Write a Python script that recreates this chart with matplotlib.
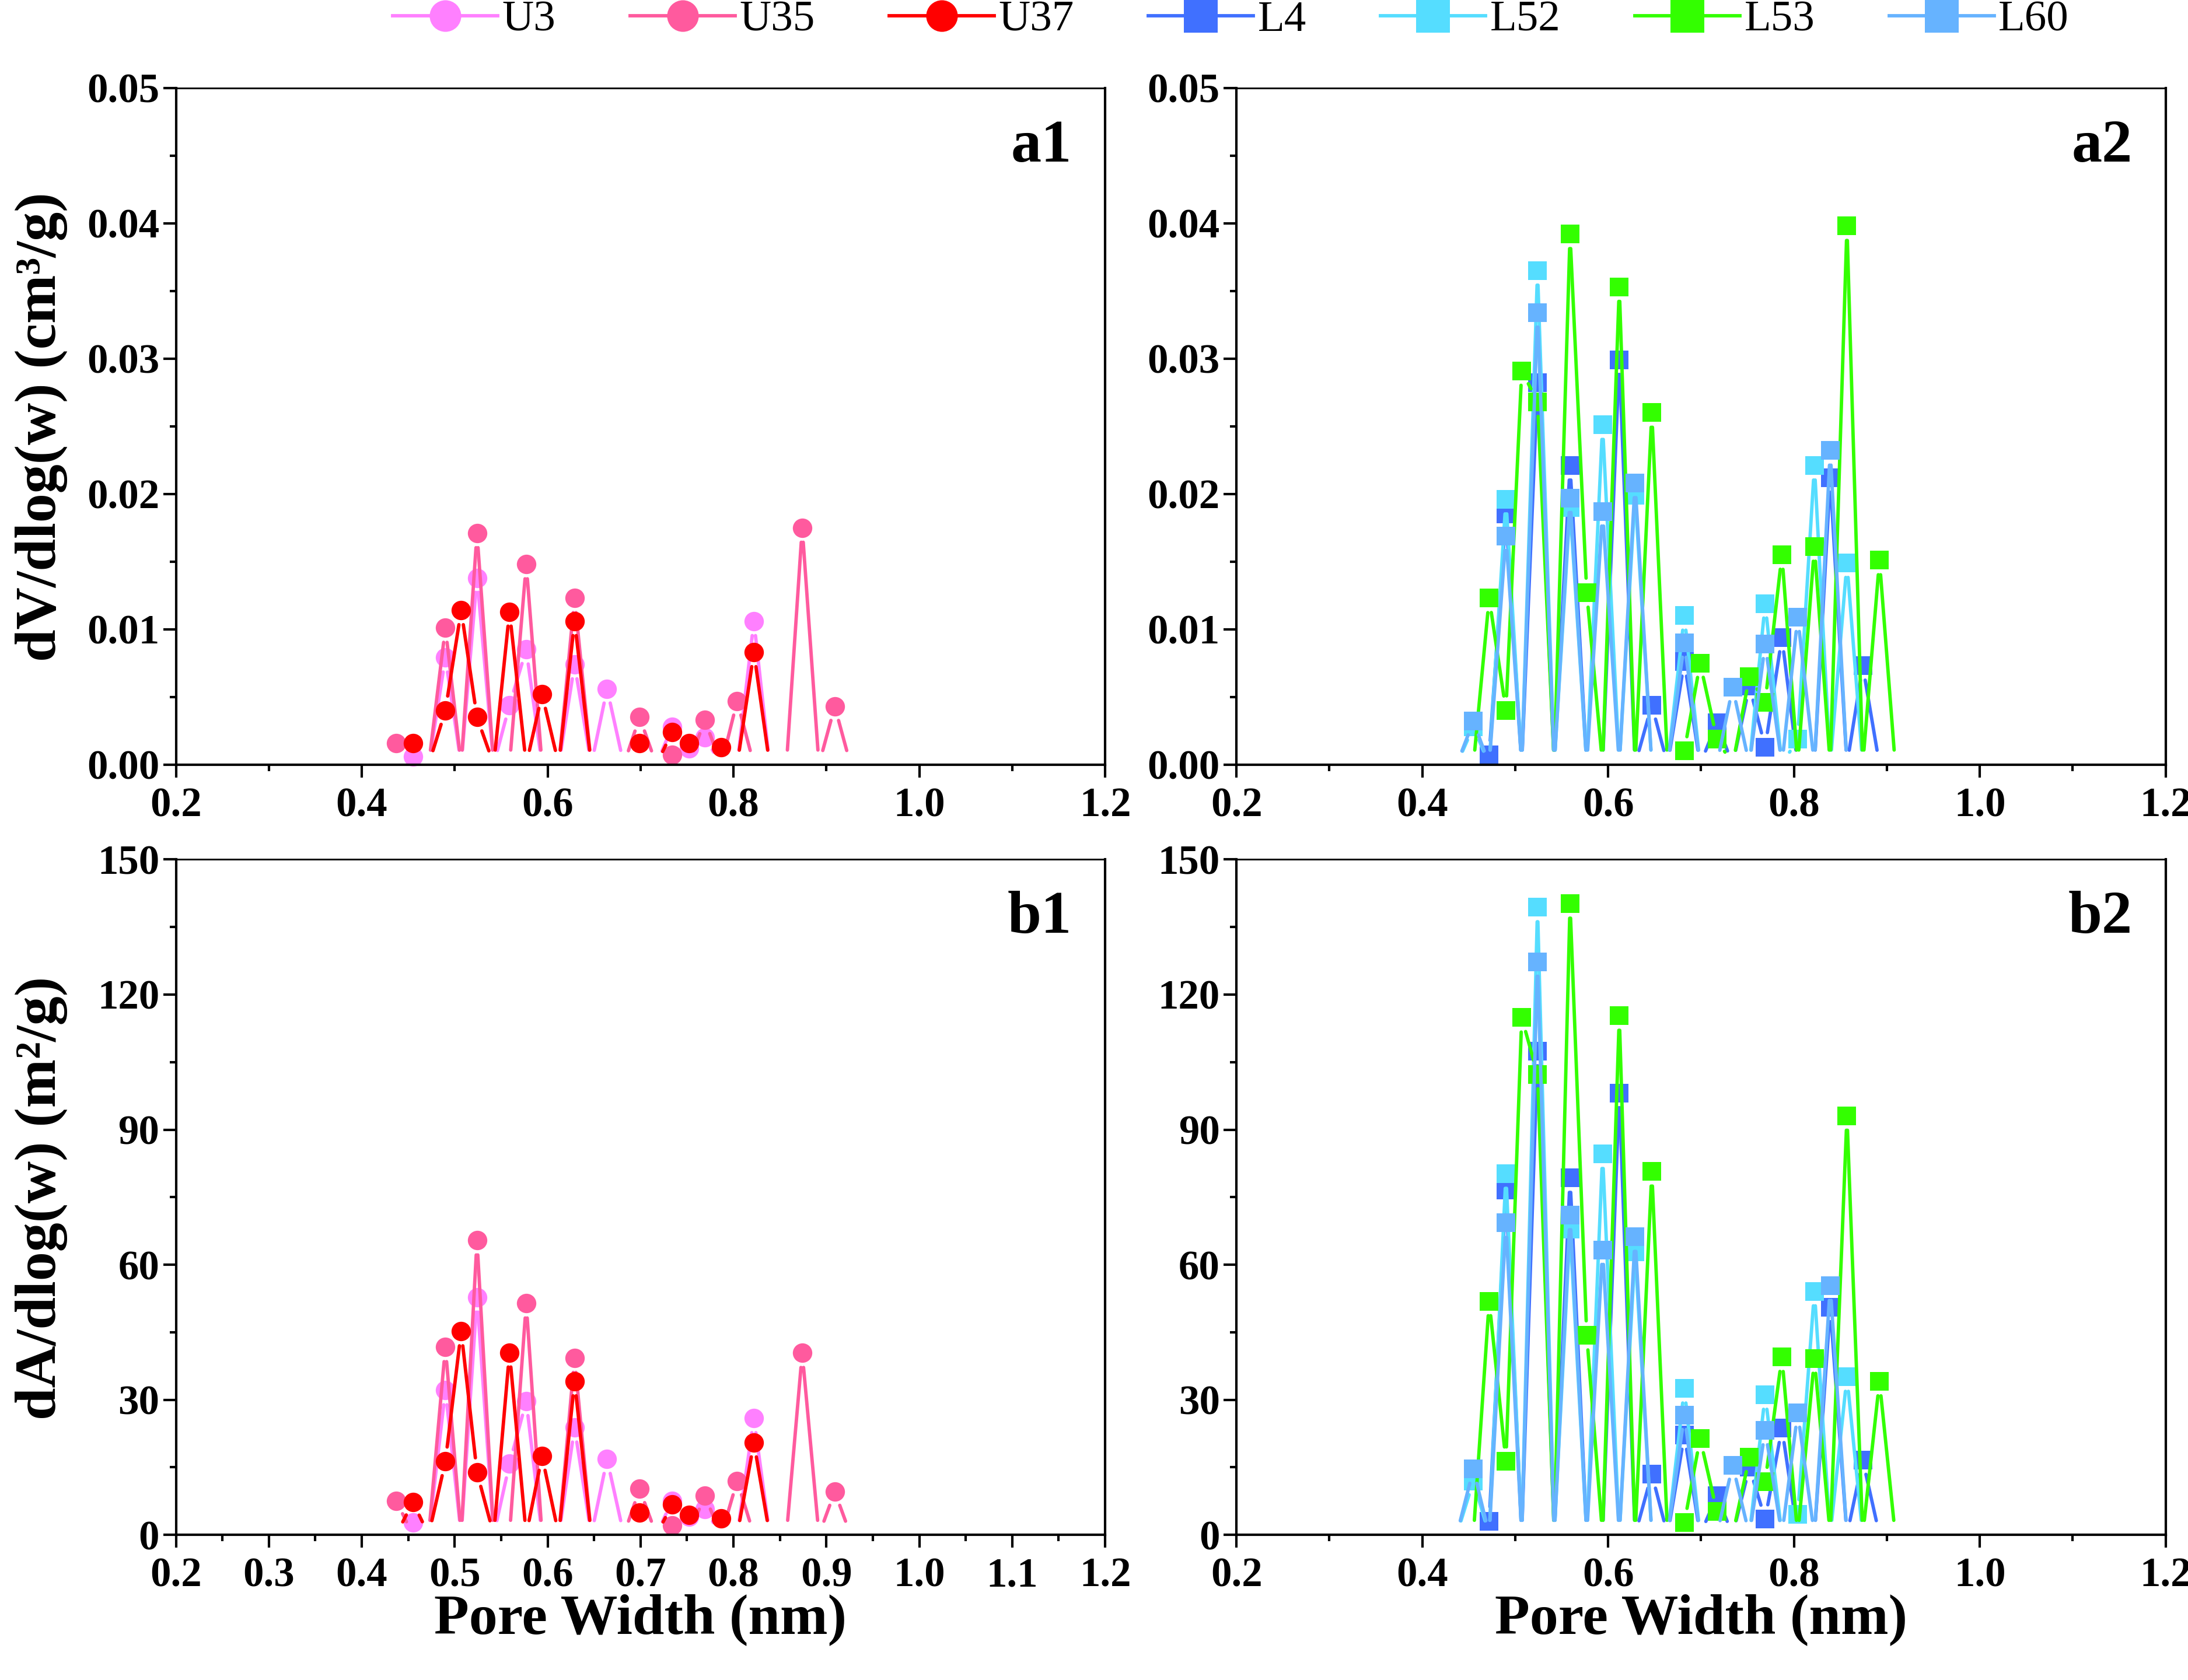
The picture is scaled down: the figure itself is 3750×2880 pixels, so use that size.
import matplotlib
matplotlib.use('Agg')
import matplotlib.pyplot as plt
import numpy as np
from matplotlib.collections import LineCollection
from matplotlib.lines import Line2D
from matplotlib.ticker import MultipleLocator, FormatStrFormatter

plt.rcParams['font.family'] = ['Liberation Serif', 'DejaVu Serif']

# pore width grid (nm)
pore_w = [0.437, 0.455, 0.472, 0.490, 0.507, 0.524, 0.542, 0.559, 0.577, 0.594,
          0.612, 0.629, 0.647, 0.664, 0.682, 0.699, 0.717, 0.734, 0.752, 0.769,
          0.787, 0.804, 0.822, 0.839, 0.857, 0.874, 0.892, 0.909, 0.926]

# dV/dlog(w) (cm3/g)
U3_dv = [0, .0006, 0, .0079, 0, .0138, 0, .0044, .0085, 0, 0, .0074, 0, .0056, 0, 0, 0, .0028, .0012, .0020, 0, 0, .0106, 0, 0, 0, 0, 0, 0]
U35_dv = [.0016, 0, 0, .0101, 0, .0171, 0, 0, .0148, 0, 0, .0123, 0, 0, 0, .0035, 0, .0007, 0, .0033, 0, .0047, 0, 0, 0, .0175, 0, .0043, 0]
U37_dv = [0, .0016, 0, .0040, .0114, .0035, 0, .0113, 0, .0052, 0, .0106, 0, 0, 0, .0016, 0, .0024, .0016, 0, .0013, 0, .0083, 0, 0, 0, 0, 0, 0]
L4_dv = [0, 0, .0007, .0185, 0, .0282, 0, .0221, 0, 0, .0299, 0, .0044, 0, .0076, 0, .0031, 0, .0058, .0013, .0094, 0, 0, .0212, 0, .0073, 0, 0, 0]
L52_dv = [0, .0028, 0, .0196, 0, .0365, 0, .0190, 0, .0251, 0, .0199, 0, 0, .0110, 0, 0, 0, 0, .0119, 0, .0019, .0221, 0, .0149, 0, 0, 0, 0]
L53_dv = [0, 0, .0123, .0040, .0291, .0268, 0, .0392, .0127, 0, .0353, 0, .0260, 0, .0010, .0075, .0019, 0, .0065, .0046, .0155, 0, .0161, 0, .0398, 0, .0151, 0, 0]
L60_dv = [0, .0032, 0, .0169, 0, .0334, 0, .0197, 0, .0187, 0, .0208, 0, 0, .0090, 0, 0, .0057, 0, .0089, 0, .0109, 0, .0232, 0, 0, 0, 0, 0]

# dA/dlog(w) (m2/g)
U3_da = [0, 2.7, 0, 32.1, 0, 52.7, 0, 15.8, 29.7, 0, 0, 23.8, 0, 16.8, 0, 0, 0, 7.6, 4.0, 5.7, 0, 0, 25.9, 0, 0, 0, 0, 0, 0]
U35_da = [7.6, 0, 0, 41.7, 0, 65.4, 0, 0, 51.4, 0, 0, 39.3, 0, 0, 0, 10.2, 0, 2.1, 0, 8.7, 0, 12.0, 0, 0, 0, 40.4, 0, 9.6, 0]
U37_da = [0, 7.3, 0, 16.3, 45.2, 13.9, 0, 40.5, 0, 17.5, 0, 34.1, 0, 0, 0, 4.9, 0, 6.7, 4.4, 0, 3.6, 0, 20.5, 0, 0, 0, 0, 0, 0]
L4_da = [0, 0, 3.0, 76.6, 0, 107.4, 0, 79.3, 0, 0, 98.1, 0, 13.5, 0, 22.2, 0, 8.7, 0, 15.0, 3.5, 23.7, 0, 0, 50.6, 0, 16.6, 0, 0, 0]
L52_da = [0, 12.0, 0, 80.2, 0, 139.4, 0, 67.9, 0, 84.6, 0, 62.8, 0, 0, 32.5, 0, 0, 0, 0, 31.1, 0, 4.6, 54.1, 0, 35.1, 0, 0, 0, 0]
L53_da = [0, 0, 51.9, 16.3, 114.9, 102.3, 0, 140.2, 44.3, 0, 115.3, 0, 80.7, 0, 2.7, 21.4, 5.2, 0, 17.2, 11.8, 39.5, 0, 39.1, 0, 93.1, 0, 34.1, 0, 0]
L60_da = [0, 14.6, 0, 69.3, 0, 127.3, 0, 71.0, 0, 63.3, 0, 66.2, 0, 0, 26.6, 0, 0, 15.5, 0, 23.2, 0, 27.1, 0, 55.3, 0, 0, 0, 0, 0]

u_names = ['U3', 'U35', 'U37']
u_colors = ['#FF80FF', '#FF5A9E', '#FF0000']
l_names = ['L4', 'L52', 'L53', 'L60']
l_colors = ['#4070FF', '#55DDFF', '#33FF00', '#66B3FF']

DPI = 300
GAP = 25  # px, gap between line and each data point (Origin style)
LW = 1.4

fig = plt.figure(figsize=(12.5, 9.6), dpi=DPI)


def setup(ax, ylim, ymaj, ymin, yfmt, xmaj):
    ax.set_xlim(0.2, 1.2)
    ax.set_ylim(*ylim)
    ax.xaxis.set_major_locator(MultipleLocator(xmaj))
    ax.xaxis.set_minor_locator(MultipleLocator(xmaj / 2))
    ax.yaxis.set_major_locator(MultipleLocator(ymaj))
    ax.yaxis.set_minor_locator(MultipleLocator(ymin))
    ax.xaxis.set_major_formatter(FormatStrFormatter('%.1f'))
    ax.yaxis.set_major_formatter(FormatStrFormatter(yfmt))
    ax.tick_params(which='both', direction='out', width=1.0, top=False, right=False)
    ax.tick_params(which='major', length=5.3)
    ax.tick_params(which='minor', length=2.6)
    ax.tick_params(axis='y', pad=1.5)
    ax.tick_params(axis='x', pad=4)
    for lab in ax.get_xticklabels() + ax.get_yticklabels():
        lab.set_fontsize(17)
        lab.set_fontweight('bold')
    for s in ['left', 'bottom', 'right']:
        ax.spines[s].set_linewidth(1.0)
    ax.spines['top'].set_linewidth(0.7)


def gapped_plot(ax, x, y, color, marker, ms, z):
    x = np.asarray(x, float)
    y = np.asarray(y, float)
    pts = ax.transData.transform(np.column_stack([x, y]))
    inv = ax.transData.inverted()
    segs = []
    for p0, p1 in zip(pts[:-1], pts[1:]):
        d = p1 - p0
        L = np.hypot(d[0], d[1])
        if L <= 2 * GAP:
            continue
        u = d / L
        segs.append(inv.transform(np.array([p0 + u * GAP, p1 - u * GAP])))
    lc = LineCollection(segs, colors=color, linewidths=LW, capstyle='round', zorder=z)
    ax.add_collection(lc)
    m = y != 0
    ax.plot(x[m], y[m], linestyle='none', marker=marker, ms=ms, mfc=color,
            mec=color, mew=0, zorder=z + 0.05, clip_on=False)


pos = {'a1': [0.0804, 0.5449, 0.4247, 0.4028], 'a2': [0.5651, 0.5449, 0.4247, 0.4028],
       'b1': [0.0804, 0.0864, 0.4247, 0.4020], 'b2': [0.5651, 0.0864, 0.4247, 0.4020]}

ax_a1 = fig.add_axes(pos['a1'])
ax_a2 = fig.add_axes(pos['a2'])
ax_b1 = fig.add_axes(pos['b1'])
ax_b2 = fig.add_axes(pos['b2'])

setup(ax_a1, (0, 0.05), 0.01, 0.005, '%.2f', 0.2)
setup(ax_a2, (0, 0.05), 0.01, 0.005, '%.2f', 0.2)
setup(ax_b1, (0, 150), 30, 15, '%d', 0.1)
setup(ax_b2, (0, 150), 30, 15, '%d', 0.2)

for i, (ys, c) in enumerate(zip([U3_dv, U35_dv, U37_dv], u_colors)):
    gapped_plot(ax_a1, pore_w, ys, c, 'o', 8, 2 + i * 0.1)
for i, (ys, c) in enumerate(zip([U3_da, U35_da, U37_da], u_colors)):
    gapped_plot(ax_b1, pore_w, ys, c, 'o', 8, 2 + i * 0.1)
for i, (ys, c) in enumerate(zip([L4_dv, L52_dv, L53_dv, L60_dv], l_colors)):
    gapped_plot(ax_a2, pore_w, ys, c, 's', 7.7, 2 + i * 0.1)
for i, (ys, c) in enumerate(zip([L4_da, L52_da, L53_da, L60_da], l_colors)):
    gapped_plot(ax_b2, pore_w, ys, c, 's', 7.7, 2 + i * 0.1)

for ax, t in [(ax_a1, 'a1'), (ax_a2, 'a2'), (ax_b1, 'b1'), (ax_b2, 'b2')]:
    ax.text(0.964, 0.913, t, transform=ax.transAxes, ha='right', va='center',
            fontsize=25, fontweight='bold')

fig.text(0.019, 0.746, 'dV/dlog(w) (cm³/g)', rotation=90, ha='center', va='center',
         fontsize=24, fontweight='bold')
fig.text(0.019, 0.287, 'dA/dlog(w) (m²/g)', rotation=90, ha='center', va='center',
         fontsize=24, fontweight='bold')
fig.text(0.0804 + 0.4247 / 2, 0.036, 'Pore Width (nm)', ha='center', va='center',
         fontsize=23.5, fontweight='bold')
fig.text(0.5651 + 0.4247 / 2, 0.036, 'Pore Width (nm)', ha='center', va='center',
         fontsize=23.5, fontweight='bold')

handles = []
for c in u_colors:
    handles.append(Line2D([], [], color=c, lw=LW, marker='o', ms=13, mew=0))
for c in l_colors:
    handles.append(Line2D([], [], color=c, lw=LW, marker='s', ms=14, mew=0))
fig.legend(handles, u_names + l_names, loc='center', bbox_to_anchor=(0.5625, 0.988),
           ncol=7, frameon=False, fontsize=18, handlelength=2.4, handletextpad=0.1,
           columnspacing=1.7, borderaxespad=0, borderpad=0)

fig.savefig('out.png', dpi=DPI)
